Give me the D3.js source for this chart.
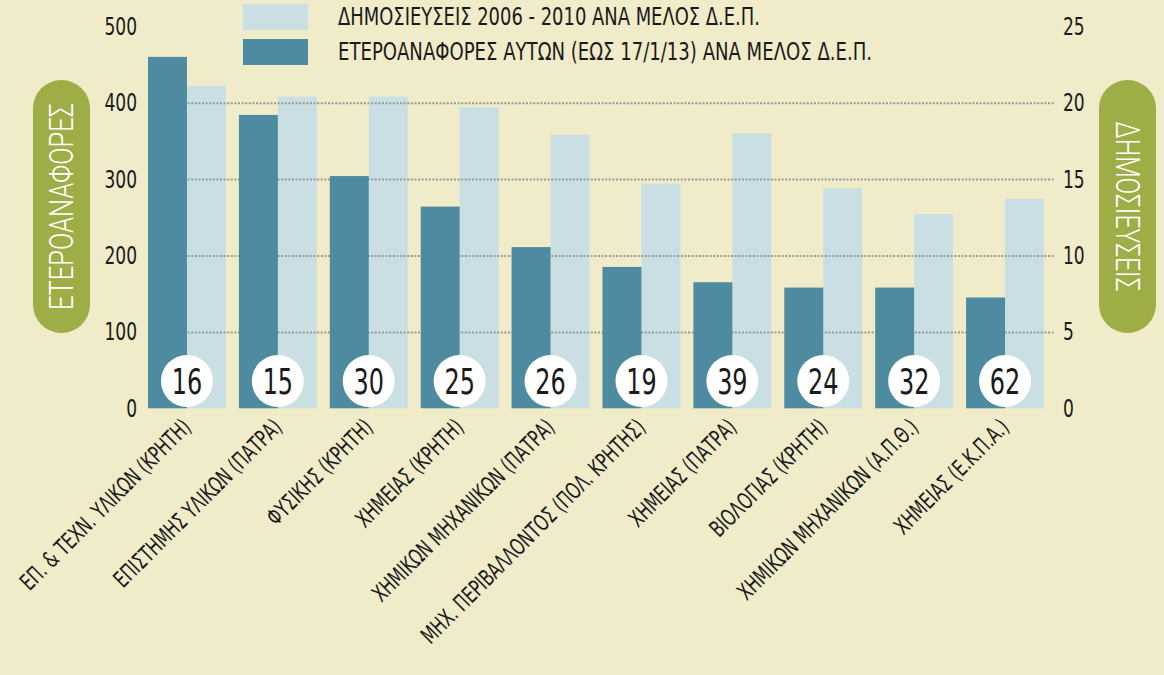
<!DOCTYPE html>
<html>
<head>
<meta charset="utf-8">
<style>
    body { margin: 0; background: #f0ebc9; }
    svg { display: block; }
    text { font-family: "Liberation Sans Narrow", "DejaVu Sans Condensed", "Roboto", sans-serif; fill: #1a1a1a; }
    .pill text { font-family: "Roboto", sans-serif; font-weight: 300; fill: #fff; }
    .grid line { stroke: #999; stroke-width: 2; stroke-dasharray: 2,1.6; }
</style>
</head>
<body>
<script src="https://d3js.org/d3.v7.min.js"></script>
<svg width="1164" height="675"></svg>
<script>
    // departments (Δ.Ε.Π. members)
    var categories = [
        "ΕΠ. & ΤΕΧΝ. ΥΛΙΚΩΝ (ΚΡΗΤΗ)",
        "ΕΠΙΣΤΗΜΗΣ ΥΛΙΚΩΝ (ΠΑΤΡΑ)",
        "ΦΥΣΙΚΗΣ (ΚΡΗΤΗ)",
        "ΧΗΜΕΙΑΣ (ΚΡΗΤΗ)",
        "ΧΗΜΙΚΩΝ ΜΗΧΑΝΙΚΩΝ (ΠΑΤΡΑ)",
        "ΜΗΧ. ΠΕΡΙΒΑΛΛΟΝΤΟΣ (ΠΟΛ. ΚΡΗΤΗΣ)",
        "ΧΗΜΕΙΑΣ (ΠΑΤΡΑ)",
        "ΒΙΟΛΟΓΙΑΣ (ΚΡΗΤΗ)",
        "ΧΗΜΙΚΩΝ ΜΗΧΑΝΙΚΩΝ (Α.Π.Θ.)",
        "ΧΗΜΕΙΑΣ (Ε.Κ.Π.Α.)"
    ];
    var citations = [460, 384, 304, 264, 211, 185, 165, 158, 158, 145];        // left axis
    var publications = [21.1, 20.4, 20.4, 19.7, 17.9, 14.7, 18.0, 14.4, 12.7, 13.7]; // right axis
    var members = [16, 15, 30, 25, 26, 19, 39, 24, 32, 62];
    var leftTicks = [0, 100, 200, 300, 400, 500];
    var rightTicks = [0, 5, 10, 15, 20, 25];
    var gridTicks = [100, 200, 300, 400];
    var legendLabels = [
        "ΔΗΜΟΣΙΕΥΣΕΙΣ 2006 - 2010 ΑΝΑ ΜΕΛΟΣ Δ.Ε.Π.",
        "ΕΤΕΡΟΑΝΑΦΟΡΕΣ ΑΥΤΩΝ (ΕΩΣ 17/1/13) ΑΝΑ ΜΕΛΟΣ Δ.Ε.Π."
    ];

    var darkColor = "#4e8ba1", lightColor = "#c9dfe3", pillColor = "#9fad47";
    var squeeze = 0.76; // the original face is narrower than what we have
    var svg = d3.select("svg");

    var x = d3.scaleBand().domain(categories).range([148, 1044]).paddingInner(0.143).paddingOuter(0);
    var half = x.bandwidth() / 2;
    var yL = d3.scaleLinear().domain([0, 500]).range([408.3, 26.3]);
    var yR = d3.scaleLinear().domain([0, 25]).range([408.3, 26.3]);

    // light bars (publications) sit under the grid
    svg.append("g").selectAll("rect")
        .data(publications)
        .enter().append("rect")
        .attr("x", function(d, i) { return x(categories[i]) + half; })
        .attr("width", half)
        .attr("y", function(d) { return yR(d); })
        .attr("height", function(d) { return yR(0) - yR(d); })
        .attr("fill", lightColor);

    // dotted grid
    var grid = svg.append("g").attr("class", "grid").attr("transform", "translate(148,0)")
        .call(d3.axisLeft(yL).tickValues(gridTicks).tickSize(-(1055 - 148)).tickFormat(""));
    grid.select(".domain").remove();

    // dark bars (citations)
    svg.append("g").selectAll("rect")
        .data(citations)
        .enter().append("rect")
        .attr("x", function(d, i) { return x(categories[i]); })
        .attr("width", half)
        .attr("y", function(d) { return yL(d); })
        .attr("height", function(d) { return yL(0) - yL(d); })
        .attr("fill", darkColor);

    // member badges
    var badge = svg.append("g").selectAll("g")
        .data(members)
        .enter().append("g")
        .attr("transform", function(d, i) { return "translate(" + (x(categories[i]) + half) + ",381)"; });
    badge.append("circle").attr("r", 26).attr("fill", "#fff");
    badge.append("text")
        .attr("text-anchor", "middle")
        .attr("dy", "0.37em")
        .attr("transform", "scale(" + squeeze + ",1)")
        .style("font-size", "35px")
        .text(function(d) { return d; });

    // axes
    var left = svg.append("g").attr("transform", "translate(148,0)")
        .call(d3.axisLeft(yL).tickValues(leftTicks).tickSize(0).tickPadding(11 / squeeze));
    var right = svg.append("g").attr("transform", "translate(1055,0)")
        .call(d3.axisRight(yR).tickValues(rightTicks).tickSize(0).tickPadding(8 / squeeze));
    [left, right].forEach(function(a) {
        a.attr("font-family", null).attr("font-size", null);
        a.select(".domain").remove();
        a.selectAll("text")
            .attr("fill", "#1a1a1a")
            .attr("transform", "scale(" + squeeze + ",1)")
            .style("font-size", "25px");
    });

    var bottom = svg.append("g").attr("transform", "translate(0,434)")
        .call(d3.axisBottom(x).tickSize(0).tickPadding(0));
    bottom.attr("font-family", null).attr("font-size", null);
    bottom.select(".domain").remove();
    bottom.selectAll("text")
        .attr("fill", "#1a1a1a")
        .attr("x", 10).attr("y", 0).attr("dy", 0)
        .style("text-anchor", "end")
        .style("font-size", "23px")
        .attr("transform", "rotate(-45) scale(0.76,1)");

    // legend
    var legend = svg.append("g").selectAll("g")
        .data(legendLabels)
        .enter().append("g")
        .attr("transform", function(d, i) { return "translate(243," + (4 + i * 35) + ")"; });
    legend.append("rect")
        .attr("width", 65).attr("height", 26)
        .attr("fill", function(d, i) { return i === 0 ? lightColor : darkColor; });
    legend.append("text")
        .attr("x", 95).attr("y", 21)
        .attr("textLength", function(d, i) { return i === 0 ? 422 : 534; })
        .attr("lengthAdjust", "spacingAndGlyphs")
        .style("font-size", "25px")
        .text(function(d) { return d; });

    // axis title pills
    var pills = [
        {label: "ΕΤΕΡΟΑΝΑΦΟΡΕΣ", x: 33, len: 207, rot: -90},
        {label: "ΔΗΜΟΣΙΕΥΣΕΙΣ", x: 1099, len: 170, rot: 90}
    ];
    var pill = svg.append("g").attr("class", "pill").selectAll("g")
        .data(pills)
        .enter().append("g")
        .attr("transform", function(d) { return "translate(" + d.x + ",80)"; });
    pill.append("rect")
        .attr("width", 57).attr("height", 253)
        .attr("rx", 28.5).attr("ry", 28.5)
        .attr("fill", pillColor);
    pill.append("text")
        .attr("transform", function(d) { return "translate(28.5,126.5) rotate(" + d.rot + ")"; })
        .attr("text-anchor", "middle")
        .attr("dy", "0.36em")
        .attr("textLength", function(d) { return d.len; })
        .attr("lengthAdjust", "spacingAndGlyphs")
        .style("font-size", "33px")
        .text(function(d) { return d.label; });
</script>
</body>
</html>
